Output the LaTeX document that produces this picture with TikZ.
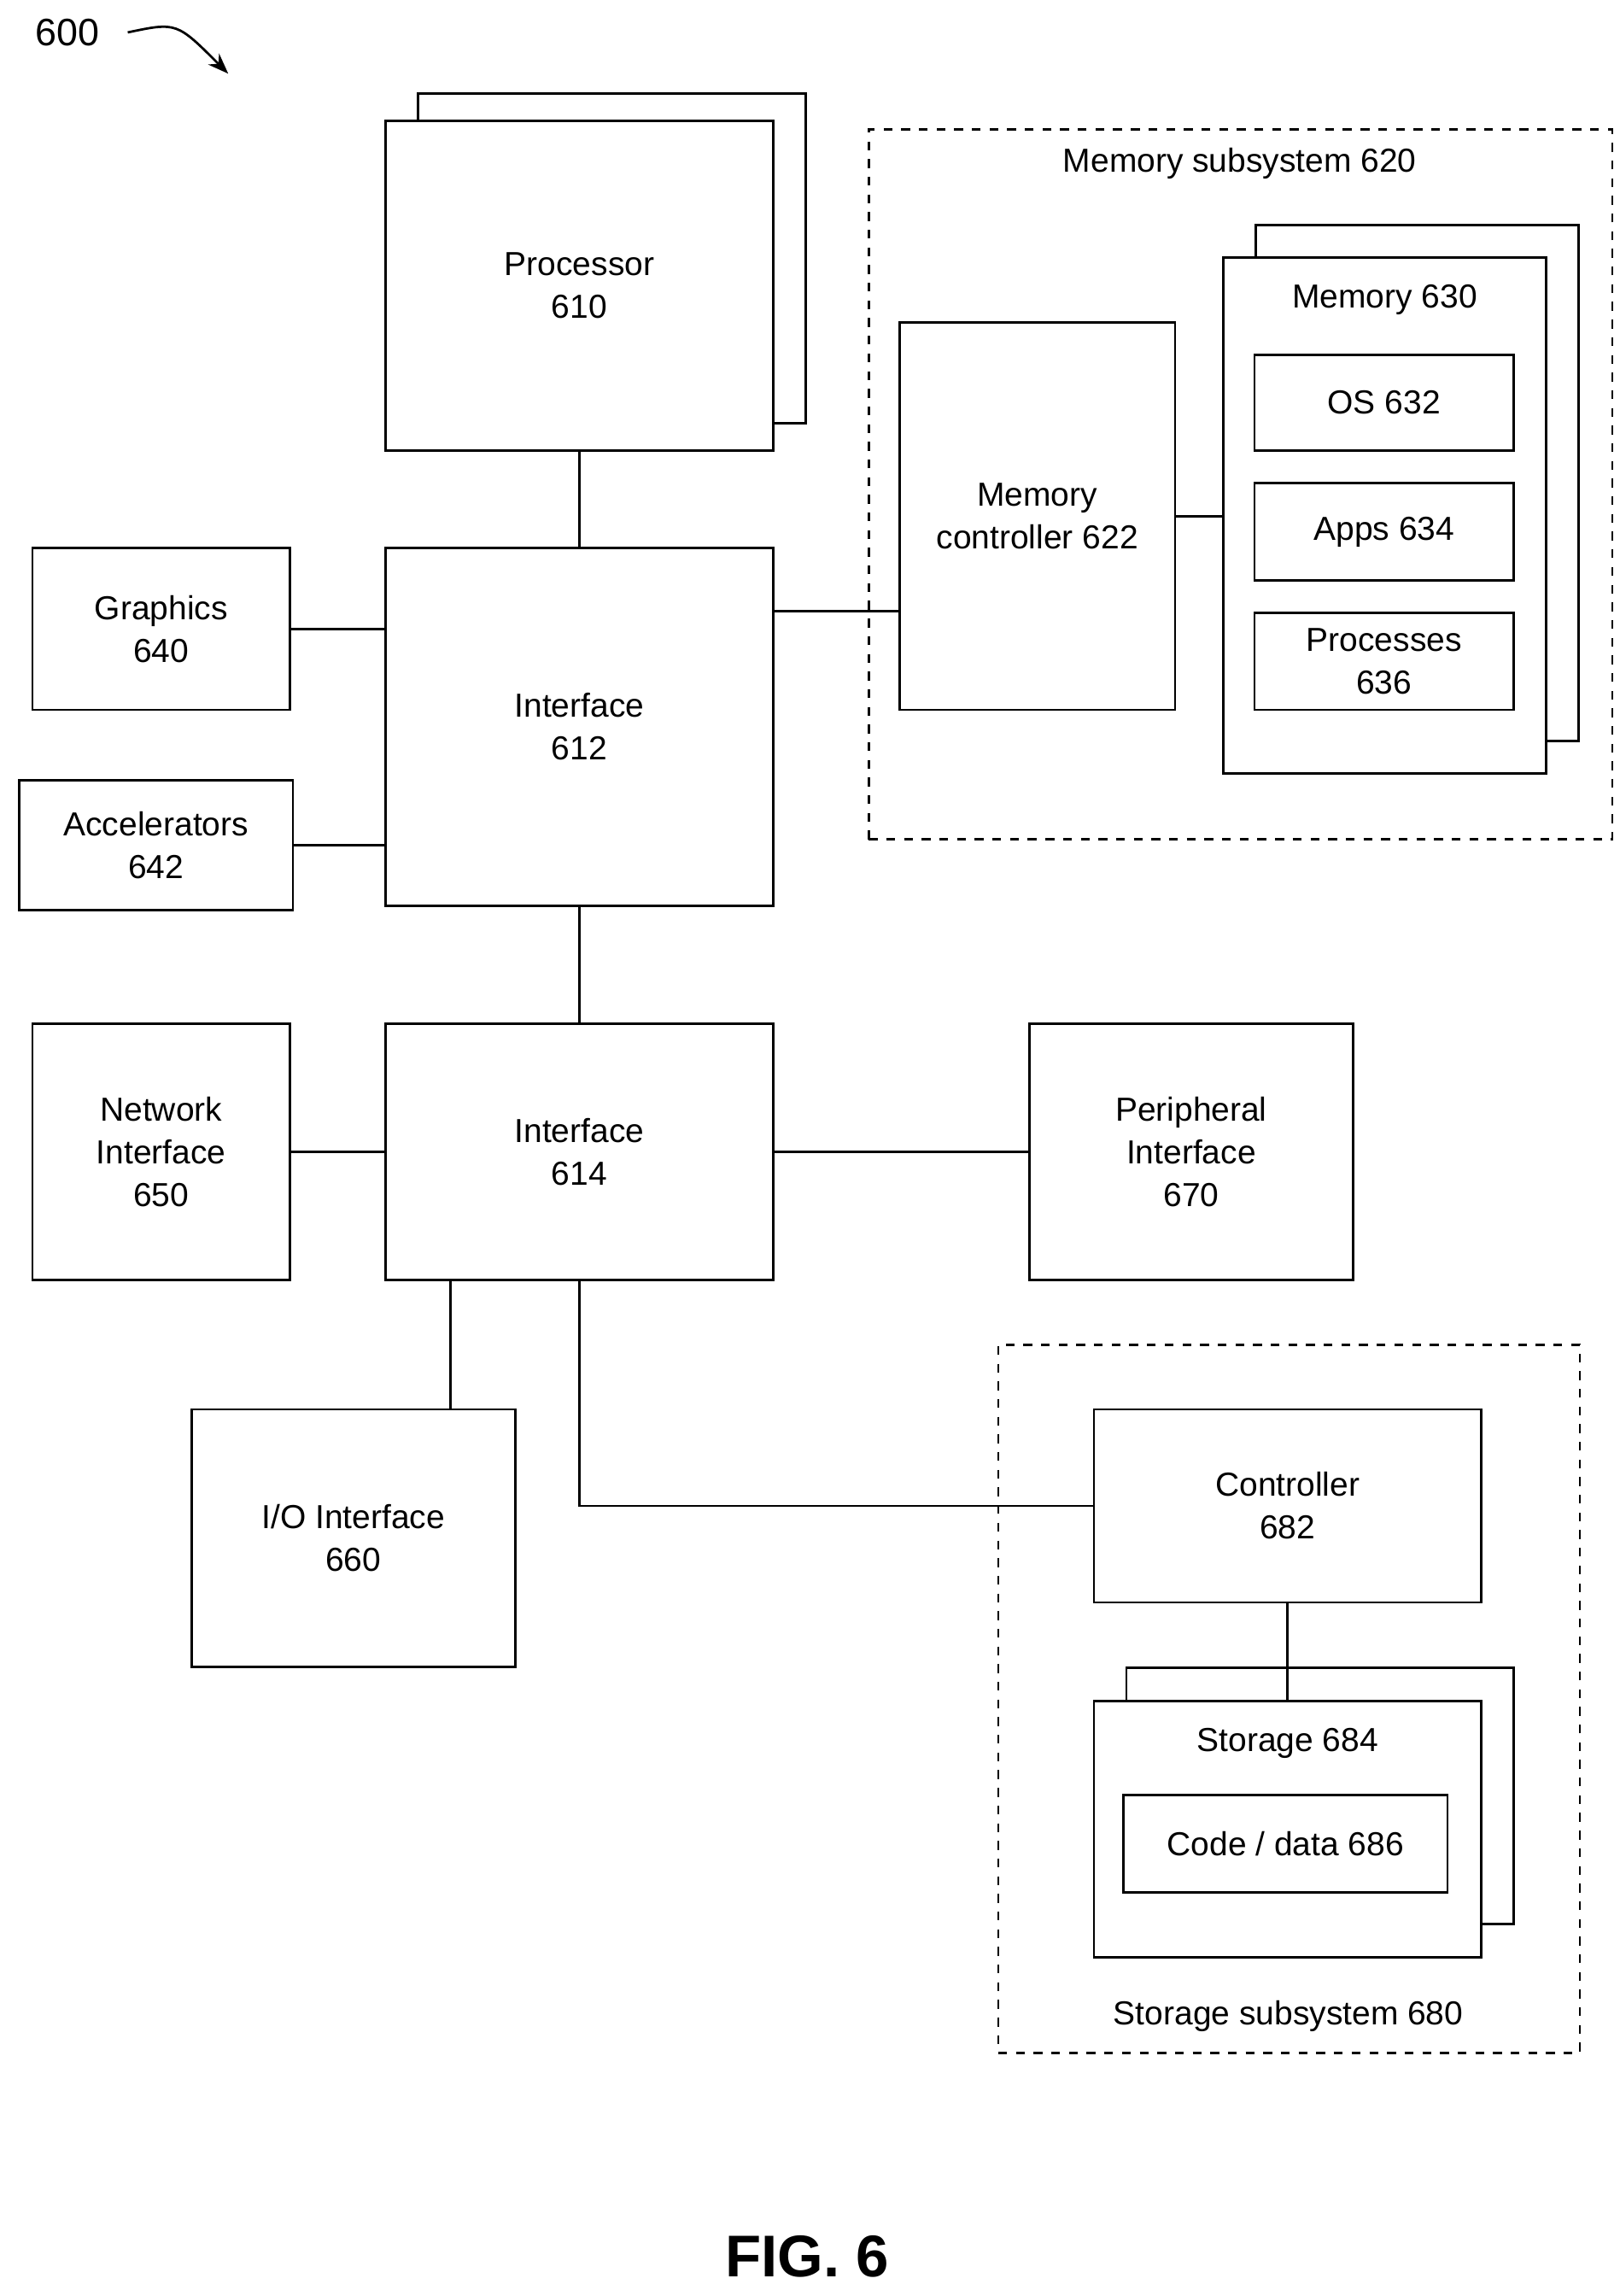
\documentclass[tikz,border=0pt]{standalone}
\usepackage{fontspec}
\setmainfont{Liberation Sans}
\usetikzlibrary{positioning,calc,arrows.meta}

\begin{document}
\begin{tikzpicture}[
x=0.5pt,y=-0.5pt,
blk/.style={
  draw,
  fill=white,
  line width=0.8pt,
  inner sep=0pt,
  align=center,
  font=\fontsize{11.3}{14.5}\selectfont
},
sub/.style={
  draw,
  dashed,
  line width=0.8pt,
  inner sep=0pt
},
lbl/.style={
  font=\fontsize{11.3}{14.5}\selectfont
},
wire/.style={line width=0.8pt}
]
\useasboundingbox (0,0) rectangle (1100,1559);

% memory subsystem
\node[sub,minimum width=252.5pt,minimum height=241pt] (memsub) at (842.5,329) {};
\node[lbl] (memsublbl) at (842,111) {Memory subsystem 620};

% processor
\node[blk,minimum width=131.5pt,minimum height=112pt] (procb) at (415.5,175.5) {};
\node[blk,minimum width=131.5pt,minimum height=112pt] (proc) at (393.5,194) {Processor\\610};

\node[blk,minimum width=131.5pt,minimum height=121.5pt] (if612) at (393.5,493.5) {Interface\\612};
\node[blk,minimum width=87.5pt,minimum height=55pt] (gfx) at (109.5,427) {Graphics\\640};
\node[blk,minimum width=93pt,minimum height=44pt] (acc) at (106,574) {Accelerators\\642};

\node[blk,minimum width=93.5pt,minimum height=131.5pt] (memctl) at (704.5,350.5) {Memory\\controller 622};
\node[blk,minimum width=109.5pt,minimum height=175pt] (memb) at (962.5,328) {};
\node[blk,minimum width=109.5pt,minimum height=175pt,
  label={[lbl,anchor=north,yshift=-6pt]north:Memory 630}] (mem) at (940.5,350) {};
\node[blk,minimum width=88pt,minimum height=32.5pt] (os) at (940,273.5) {OS 632};
\node[blk,minimum width=88pt,minimum height=33pt] (apps) at (940,361) {Apps 634};
\node[blk,minimum width=88pt,minimum height=33pt] (procs) at (940,449) {Processes\\636};

\node[blk,minimum width=131.5pt,minimum height=87pt] (if614) at (393.5,782) {Interface\\614};
\node[blk,minimum width=87.5pt,minimum height=87pt] (net) at (109.5,782) {Network\\Interface\\650};
\node[blk,minimum width=110pt,minimum height=87pt] (peri) at (809,782) {Peripheral\\Interface\\670};
\node[blk,minimum width=110pt,minimum height=87.5pt] (io) at (240,1044.5) {I/O Interface\\660};

% storage subsystem
\node[sub,minimum width=197.5pt,minimum height=240.5pt] (stosub) at (875.5,1153.5) {};
\node[lbl] (stosublbl) at (875,1369) {Storage subsystem 680};
\node[blk,minimum width=131.5pt,minimum height=65.5pt] (ctl) at (874.5,1022.5) {Controller\\682};
\node[blk,minimum width=131.5pt,minimum height=87pt] (stob) at (896.5,1219.5) {};
\node[blk,minimum width=131.5pt,minimum height=87pt,
  label={[lbl,anchor=north,yshift=-6pt]north:Storage 684}] (sto) at (874.5,1242) {};
\node[blk,minimum width=110pt,minimum height=33pt] (code) at (873,1252) {Code / data 686};

\node[font=\bfseries\fontsize{20}{24}\selectfont] (fig) at (548,1532) {FIG. 6};
\node[font=\fontsize{13}{16}\selectfont] (num) at (46,22) {600};
\coordinate (numtip) at (155,50);

\draw[wire] (proc) -- (if612);
\draw[wire] (gfx.east) -- (gfx.east-|if612.west);
\draw[wire] (acc.east) -- (acc.east-|if612.west);
\draw[wire] (if612.east|-0,415) -- (memctl.west|-0,415);
\draw[wire] (memctl.east) -- (mem.west|-memctl.east);
\draw[wire] (if612) -- (if614);
\draw[wire] (net) -- (if614);
\draw[wire] (if614) -- (peri);
\draw[wire] (io.north-|306,0) -- (if614.south-|306,0);
\draw[wire] (if614.south) |- (ctl.west);
\draw[wire] (ctl.south) -- (sto.north);
\draw[wire,-{Stealth[length=7pt]}] (num.east) ++(6pt,0) .. controls (120,15) .. (numtip);
\end{tikzpicture}
\end{document}
